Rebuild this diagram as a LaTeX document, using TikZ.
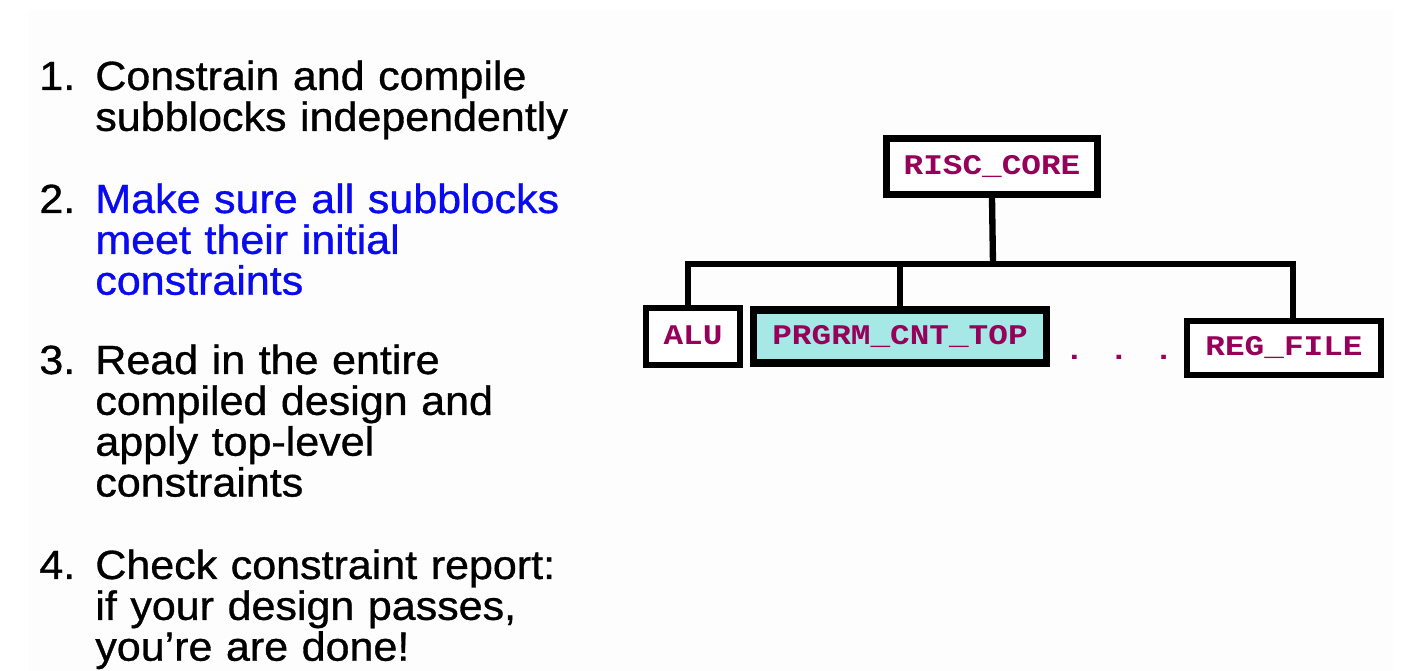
\documentclass[tikz,border=0pt]{standalone}
\usepackage{fontspec}
\setmainfont{Liberation Sans}
\newfontfamily\slidefont[FakeStretch=1.055, FakeBold=0.8]{Liberation Sans}
\newfontfamily\codefont[FakeStretch=1.15]{Liberation Mono}
\usetikzlibrary{positioning}
\definecolor{plum}{RGB}{150, 0, 90}
\definecolor{aqua}{RGB}{166, 232, 230}
\definecolor{stepblue}{RGB}{10, 10, 240}
\definecolor{paper}{RGB}{253, 253, 253}

\tikzset{
    modbox/.style={draw=black, line width=3.8pt, fill=white, inner sep=0pt, text=plum,
        font=\codefont\bfseries\fontsize{16.2}{16.2}\selectfont, text height=9pt, text depth=0pt},
    wire/.style={line width=3.2pt},
    stepnum/.style={anchor=base west, inner sep=0pt, font=\slidefont\fontsize{23.2}{23.25}\selectfont},
    steptext/.style={stepnum, align=left, text width=10cm},
}

\begin{document}
\begin{tikzpicture}[x=0.02cm, y=-0.02cm]
    \useasboundingbox (0,0) rectangle (1416,671);
    \fill[paper] (28,10) rectangle (1393,671);

    % the four steps
    \node[stepnum] (n1) at (39,90) {1.};
    \node[steptext] (s1) at (95,90) {Constrain and compile\\subblocks independently};
    \node[stepnum] (n2) at (39,213) {2.};
    \node[steptext, text=stepblue] (s2) at (95,213) {Make sure all subblocks\\meet their initial\\constraints};
    \node[stepnum] (n3) at (39,374) {3.};
    \node[steptext] (s3) at (95,374) {Read in the entire\\compiled design and\\apply top-level\\constraints};
    \node[stepnum] (n4) at (39,579) {4.};
    \node[steptext] (s4) at (95,579) {Check constraint report:\\if your design passes,\\you’re are done!};

    % design hierarchy
    \node[modbox, minimum width=4.22cm, minimum height=1.12cm] (core) at (992,166.5) {RISC\_CORE};
    \node[modbox, minimum width=1.88cm, minimum height=1.14cm] (alu) at (693,336.5) {ALU};
    \node[modbox, fill=aqua, line width=4.3pt, minimum width=5.86cm, minimum height=1.06cm] (prg) at (900,336.5) {PRGRM\_CNT\_TOP};
    \node[modbox, minimum width=3.88cm, minimum height=1.08cm] (reg) at (1284,348) {REG\_FILE};
    \node[anchor=base, inner sep=0pt, text=plum, font=\codefont\bfseries\fontsize{16.2}{16.2}\selectfont] (dots) at (1119,360) {.\hspace{0.5cm}.\hspace{0.5cm}.};

    \coordinate (bus) at (993,264);
    \draw[wire, line width=3.6pt] (core.south) -- (bus);
    \draw[wire] ([xshift=-0.1cm]alu.north) |- (bus) -| ([xshift=0.18cm]reg.north);
    \draw[wire] (prg.north) -- (prg.north |- bus);
\end{tikzpicture}
\end{document}
